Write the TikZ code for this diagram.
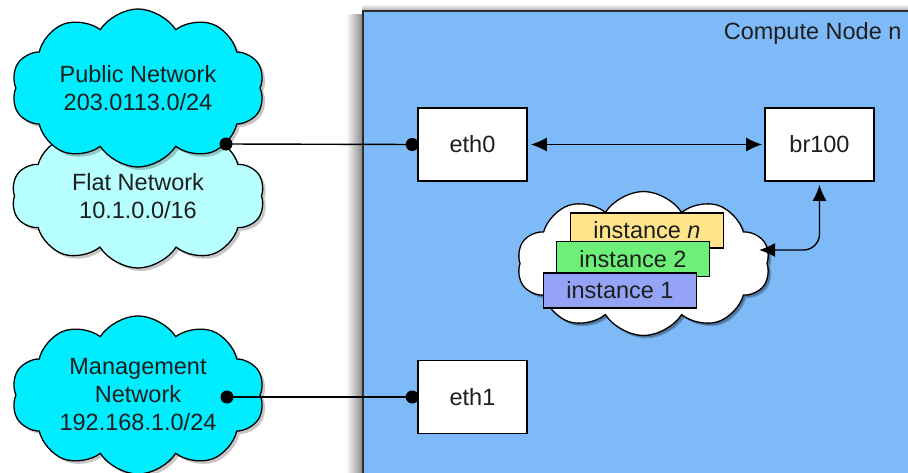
\documentclass[tikz,border=0pt]{standalone}
\usepackage{fontspec}
\setmainfont{Liberation Sans}
\usetikzlibrary{shapes.symbols,arrows.meta,shadows}
\definecolor{computeblue}{RGB}{126,186,247}
\definecolor{netcyan}{RGB}{0,236,255}
\definecolor{flatcyan}{RGB}{184,255,255}
\definecolor{instyellow}{RGB}{255,228,140}
\definecolor{instgreen}{RGB}{110,240,120}
\definecolor{instblue}{RGB}{148,163,245}
\definecolor{txt}{RGB}{30,30,30}
\begin{document}
\begin{tikzpicture}[x=1pt,y=-1pt,
  every node/.style={font=\fontsize{23.5}{28}\selectfont, text=txt},
  netcloud/.style={cloud, cloud puffs=10, cloud puff arc=115, aspect=1.75,
    draw=black, line width=1.3pt, minimum width=253pt, minimum height=144pt,
    inner sep=0pt, align=center,
    drop shadow={shadow xshift=3pt, shadow yshift=-3pt, fill=black, opacity=0.22}},
  ifbox/.style={draw=black, fill=white, line width=1.6pt, minimum width=109pt,
    minimum height=73pt, inner sep=0pt},
  instbox/.style={draw=black, line width=1.2pt, minimum width=153pt,
    minimum height=35pt, inner sep=0pt},
  conn/.style={line width=1.4pt, draw=black},
  dot/.style={circle, fill=black, inner sep=0pt, minimum size=13pt}
]
\useasboundingbox (0,0) rectangle (908,472);

% soft shadow of the compute node box
\shade[left color=white, right color=black!45] (346,14) rectangle (362,472);
\shade[top color=white, bottom color=black!30] (362,4) rectangle (908,10);

% compute node box
\node[draw={rgb,255:red,45;green,45;blue,45}, line width=2pt, fill=computeblue,
  anchor=north west, minimum width=600pt, minimum height=500pt, inner sep=0pt]
  (compute) at (362,10) {};
\node[anchor=base east] (ctitle) at (905,39) {Compute Node n};

% networks (left)
\node[netcloud, fill=flatcyan] (flat) at (138,196) {Flat Network\\10.1.0.0/16};
\node[netcloud, fill=netcyan] (public) at (138,88) {Public Network\\203.0113.0/24};
\node[netcloud, fill=netcyan] (mgmt) at (138,395) {Management\\Network\\192.168.1.0/24};

% interfaces
\node[ifbox] (eth0) at (472.5,144.5) {eth0};
\node[ifbox] (br100) at (819.5,144.5) {br100};
\node[ifbox] (eth1) at (472.5,397) {eth1};

% instances cloud
\node[netcloud, fill=white, drop shadow={shadow xshift=2pt, shadow yshift=-2pt, fill=black, opacity=0.2}] (icloud) at (643.5,263.5) {};
\node[instbox, fill=instyellow] (instn) at (647,230.5) {instance \textit{n}};
\node[instbox, fill=instgreen] (inst2) at (633,259) {instance 2};
\node[instbox, fill=instblue] (inst1) at (620,290.5) {instance 1};

% connectors
\coordinate (pubport) at (226,144);
\coordinate (mgmtport) at (227,397);
\coordinate (iport) at (759,250);
\draw[conn] (pubport) -- (eth0.west);
\node[dot] (pubdot) at (pubport) {};
\node[dot] (eth0dot) at ([xshift=-5pt]eth0.west) {};
\draw[conn] (mgmtport) -- (eth1.west);
\node[dot] (mgmtdot) at (mgmtport) {};
\node[dot] (eth1dot) at ([xshift=-5pt]eth1.west) {};
\draw[conn, {Latex[length=16pt,width=14pt]}-{Latex[length=16pt,width=14pt]}, shorten <=3pt, shorten >=2pt] (eth0.east) -- (br100.west);
\draw[conn, {Latex[length=16pt,width=14pt]}-{Latex[length=16pt,width=14pt]}, rounded corners=16pt, shorten >=3pt] (iport) -| (br100.south);
\end{tikzpicture}
\end{document}
